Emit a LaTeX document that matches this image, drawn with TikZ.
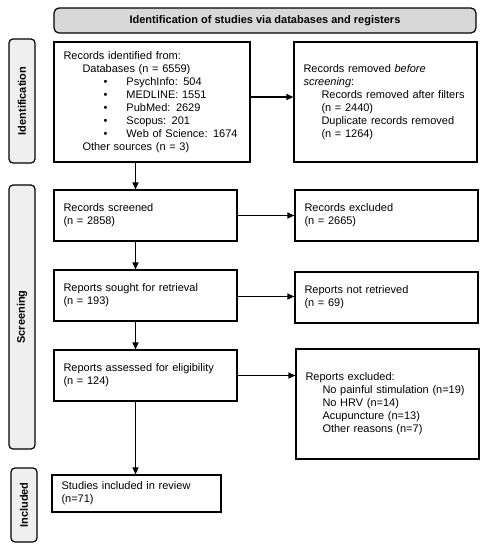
\documentclass[tikz,border=0pt]{standalone}
\usepackage{fontspec}
\setmainfont{Liberation Sans}
\usetikzlibrary{arrows.meta}
\definecolor{titlegray}{HTML}{D8D8D8}
\definecolor{sidegray}{HTML}{EFEFEF}
\tikzset{
  box/.style={draw, line width=1.2pt, inner xsep=9.5pt, inner ysep=0pt, align=left,
    font=\fontsize{11}{13}\selectfont, anchor=center},
  sidebox/.style={draw, line width=1.2pt, fill=sidegray, rounded corners=4pt, inner sep=0pt},
  sidelabel/.style={rotate=90, font=\fontsize{11}{13}\selectfont\bfseries},
  titlebox/.style={draw, line width=1.2pt, fill=titlegray, rounded corners=5pt, inner sep=0pt,
    font=\fontsize{11}{13}\selectfont\bfseries},
  arr/.style={line width=1.2pt, -{Triangle[length=7pt,width=6pt]}}
}
\newcommand{\bul}[1]{\hspace*{40pt}\makebox[23pt][l]{•}#1}
\begin{document}
\begin{tikzpicture}[x=1pt,y=-1pt]
\useasboundingbox (0,0) rectangle (488,550);
% title
\node[titlebox, minimum width=422pt, minimum height=25pt] (title) at (265,20.5)
  {Identification of studies via databases and registers};
% side boxes
\node[sidebox, minimum width=26pt, minimum height=124pt] (sid) at (22,101) {};
\node[sidelabel] (sidl) at (sid) {Identification};
\node[sidebox, minimum width=26pt, minimum height=264pt] (sscr) at (22,317) {};
\node[sidelabel] (sscrl) at (sscr) {Screening};
\node[sidebox, minimum width=26pt, minimum height=74pt] (sinc) at (24,505) {};
\node[sidelabel] (sincl) at (sinc) {Included};
% main boxes
\node[box, text width=177pt, minimum height=120pt] (idrec) at (152,102)
  {Records identified from:\\
   \hspace*{19pt}Databases (n = 6559)\\
   \bul{PsychInfo: 504}\\
   \bul{MEDLINE: 1551}\\
   \bul{PubMed: 2629}\\
   \bul{Scopus: 201}\\
   \bul{Web of Science: 1674}\\
   \hspace*{19pt}Other sources (n = 3)};
\node[box, text width=164pt, minimum height=120pt] (removed) at (385.5,102)
  {Records removed \textit{before}\\
   \textit{screening}:\\
   \hspace*{18pt}Records removed after filters\\
   \hspace*{18pt}(n = 2440)\\
   \hspace*{18pt}Duplicate records removed\\
   \hspace*{18pt}(n = 1264)};
\node[box, text width=164pt, minimum height=51pt] (screened) at (145.5,215.5)
  {Records screened\\(n = 2858)};
\node[box, text width=164pt, minimum height=51pt] (excluded) at (386.5,215.5)
  {Records excluded\\(n = 2665)};
\node[box, text width=164pt, minimum height=51pt] (sought) at (145.5,295.5)
  {Reports sought for retrieval\\(n = 193)};
\node[box, text width=164pt, minimum height=51pt] (notret) at (386.5,297.5)
  {Reports not retrieved\\(n = 69)};
\node[box, text width=164pt, minimum height=51pt] (assessed) at (145.5,375.5)
  {Reports assessed for eligibility\\(n = 124)};
\node[box, text width=164pt, minimum height=110pt] (repexcl) at (387.5,404)
  {Reports excluded:\\
   \hspace*{17pt}No painful stimulation (n=19)\\
   \hspace*{17pt}No HRV (n=14)\\
   \hspace*{17pt}Acupuncture (n=13)\\
   \hspace*{17pt}Other reasons (n=7)};
\node[box, text width=150pt, minimum height=37pt] (included) at (136.5,493.5)
  {Studies included in review\\(n=71)};
% connectors
\coordinate (vx) at (135.5,0);
\draw[arr] ([yshift=5pt]idrec.east) -- ([yshift=5pt]idrec.east -| removed.west);
\draw[arr] (screened.east) -- (screened.east -| excluded.west);
\draw[arr] ([yshift=-1pt]sought.east) -- ([yshift=-1pt]sought.east -| notret.west);
\draw[arr] (assessed.east) -- (assessed.east -| repexcl.west);
\draw[arr] (idrec.south -| vx) -- (screened.north -| vx);
\draw[arr] (screened.south -| vx) -- (sought.north -| vx);
\draw[arr] (sought.south -| vx) -- (assessed.north -| vx);
\draw[arr] (assessed.south -| vx) -- (included.north -| vx);
\end{tikzpicture}
\end{document}
